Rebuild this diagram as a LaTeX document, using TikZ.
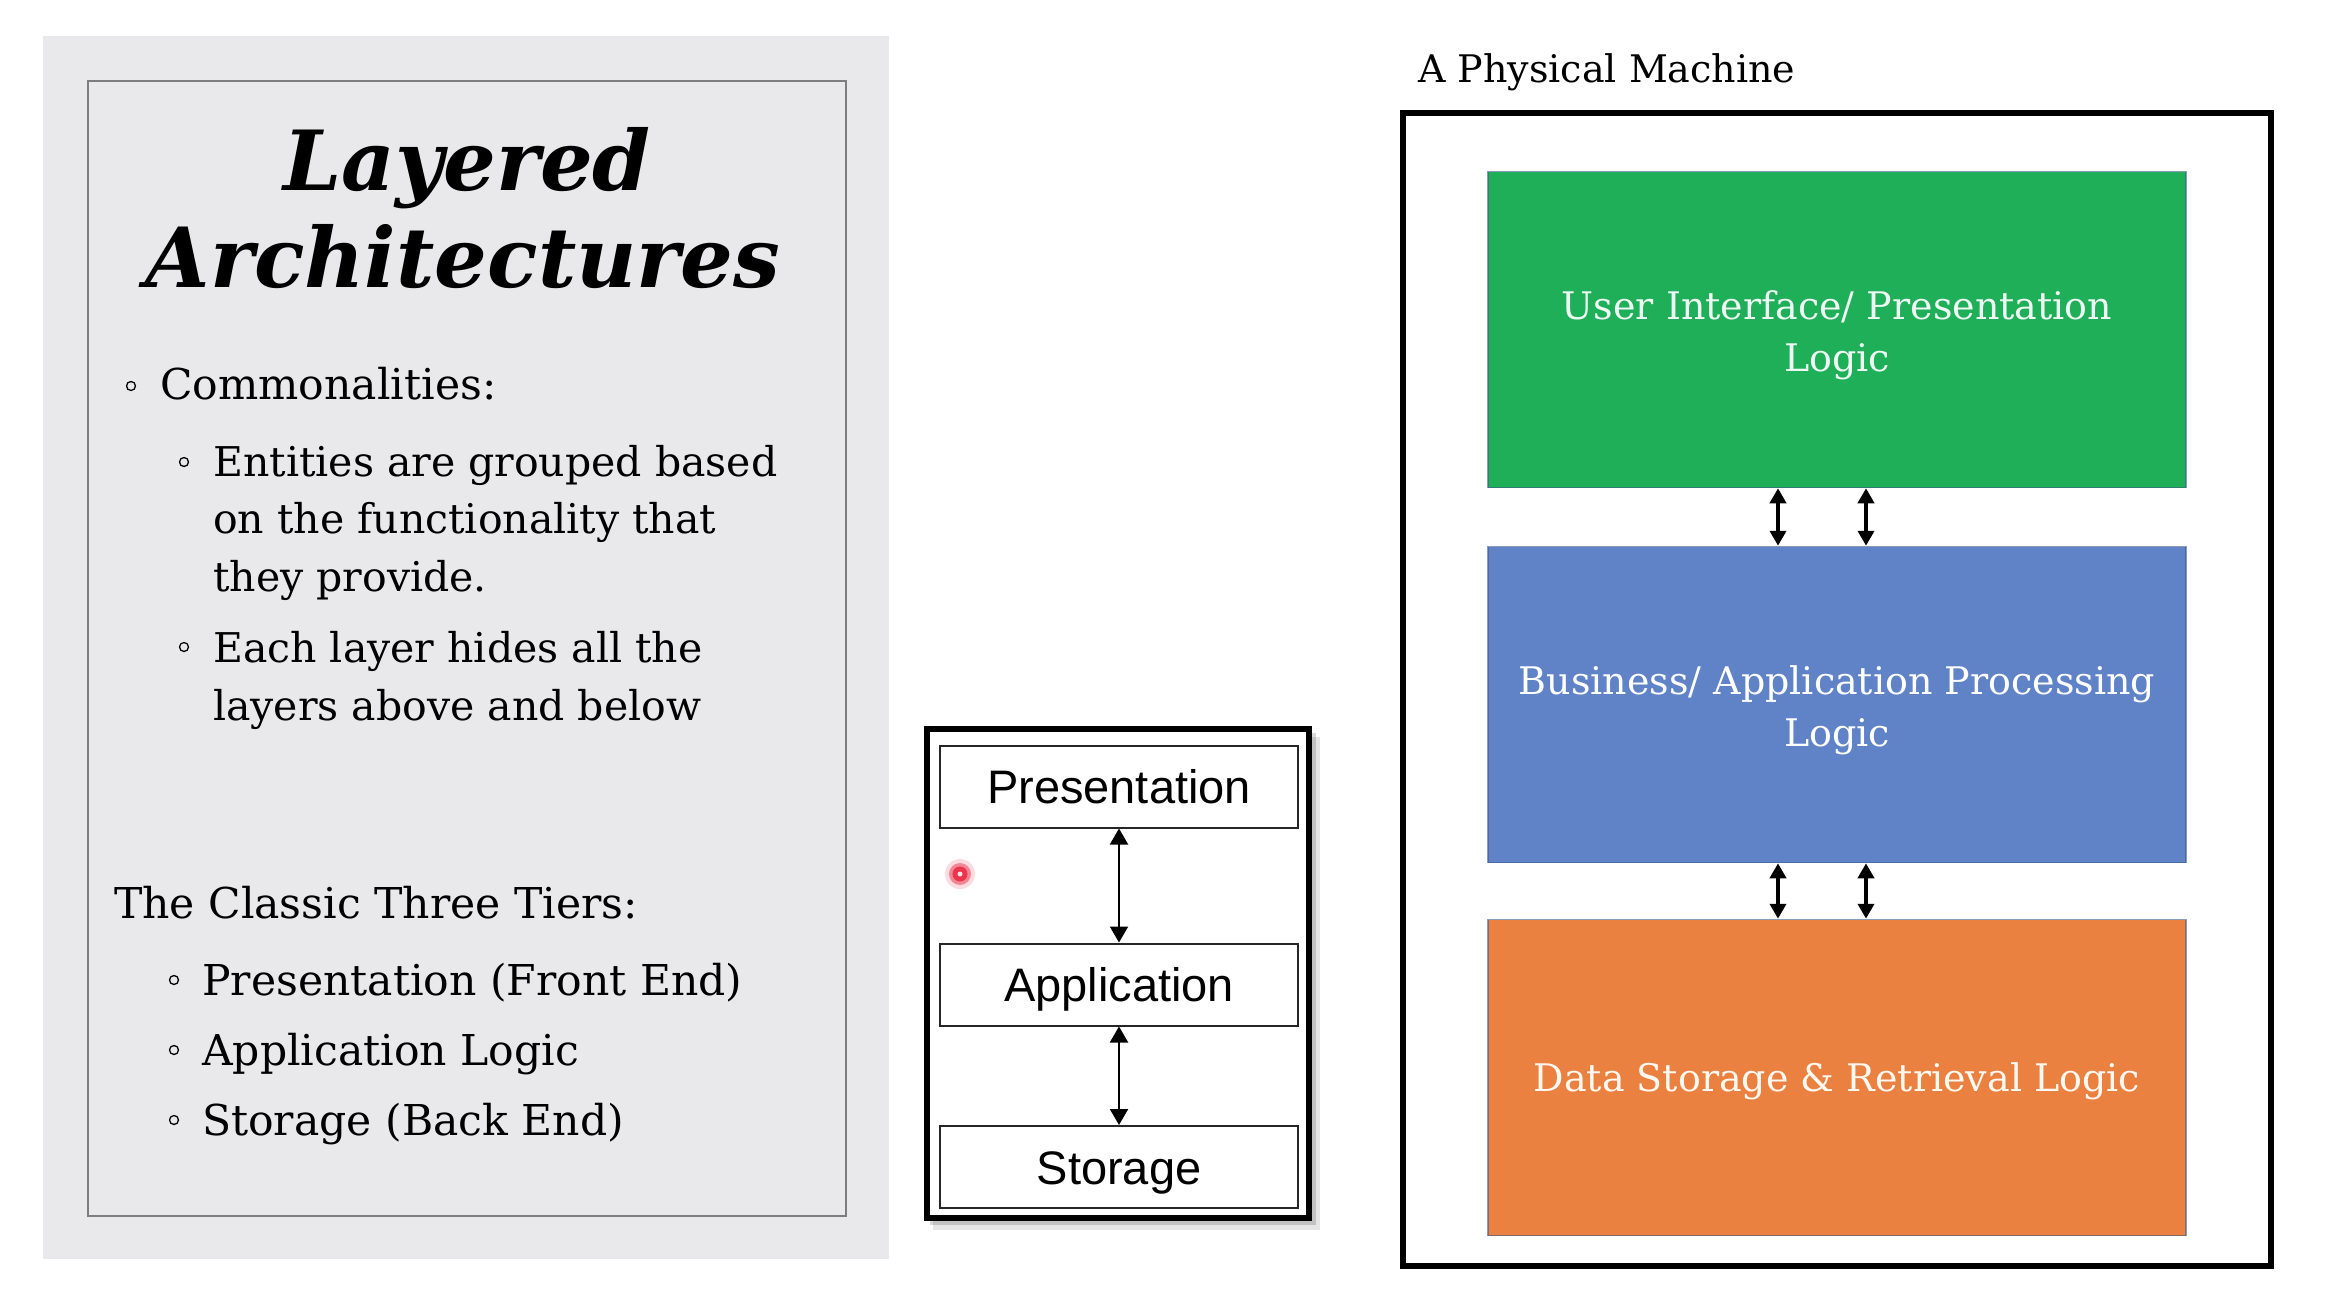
\documentclass[tikz,border=0pt]{standalone}
\usepackage{fontspec}
\setmainfont{DejaVu Serif}
\newfontfamily\sansA{Liberation Sans}
\usetikzlibrary{arrows.meta}
\definecolor{panelgray}{RGB}{233,232,235}
\definecolor{framegray}{RGB}{125,125,125}
\definecolor{uigreen}{RGB}{30,175,88}
\definecolor{bizblue}{RGB}{96,131,200}
\definecolor{dataorange}{RGB}{235,129,64}
\definecolor{edgeblue}{RGB}{60,90,140}
\definecolor{dotred}{RGB}{232,30,55}
\tikzset{
  titlestyle/.style={anchor=base, inner sep=0pt, font=\fontsize{83}{96}\selectfont\bfseries\itshape},
  lvlone/.style={anchor=base west, inner sep=0pt, font=\fontsize{42.5}{50}\selectfont},
  lvltwo/.style={anchor=base west, inner sep=0pt, font=\fontsize{41}{50}\selectfont},
  bulletmark/.style={draw=black, line width=1.3pt},
  tierbox/.style={draw=black!85, line width=2pt, fill=white, minimum width=358pt, minimum height=82pt,
     inner sep=0pt, font=\sansA\fontsize{47}{47}\selectfont, text height=34pt, text depth=0pt},
  layerbox/.style={minimum width=698pt, minimum height=316pt, draw=edgeblue, draw opacity=0.6,
     line width=1.5pt, inner sep=0pt},
  layertext/.style={text=white, align=center, inner sep=0pt, font=\fontsize{38}{52}\selectfont},
  thinarrow/.style={{Triangle[width=18pt,length=16pt]}-{Triangle[width=18pt,length=16pt]}, line width=2pt},
  thickarrow/.style={{Triangle[width=16pt,length=15pt]}-{Triangle[width=16pt,length=15pt]}, line width=4pt},
}
\begin{document}
\begin{tikzpicture}[x=1pt,y=-1pt]
\useasboundingbox (0,0) rectangle (2330,1298);
\fill[white] (0,0) rectangle (2330,1298);

% ---------- left panel ----------
\fill[panelgray] (43,36) rectangle (889,1259);
\draw[framegray, line width=1.5pt] (88,81) rectangle (846,1216);

\node[titlestyle] (t1) at (467,190) {Layered};
\node[titlestyle] (t2) at (463,287) {Architectures};

\draw[bulletmark] (131,386) circle[radius=4.5];
\node[lvlone] (c0) at (160,399) {Commonalities:};
\draw[bulletmark] (184,462) circle[radius=4.5];
\node[lvltwo] (c1) at (213,476) {Entities are grouped based};
\node[lvltwo] (c2) at (213,533) {on the functionality that};
\node[lvltwo] (c3) at (213,591) {they provide.};
\draw[bulletmark] (184,647) circle[radius=4.5];
\node[lvltwo] (c4) at (213,662) {Each layer hides all the};
\node[lvltwo] (c5) at (213,720) {layers above and below};

\node[lvlone] (k0) at (114,918) {The Classic Three Tiers:};
\draw[bulletmark] (174,980) circle[radius=4.5];
\node[lvlone] (k1) at (202,995) {Presentation (Front End)};
\draw[bulletmark] (174,1050) circle[radius=4.5];
\node[lvlone] (k2) at (202,1065) {Application Logic};
\draw[bulletmark] (174,1120) circle[radius=4.5];
\node[lvlone] (k3) at (202,1135) {Storage (Back End)};

% ---------- middle diagram ----------
\fill[black, opacity=0.10] (933,737) rectangle (1320,1230);
\fill[black, opacity=0.15] (930,733) rectangle (1316,1225);
\fill[white] (927,729) rectangle (1309,1218);
\draw[black, line width=6pt] (927,729) rectangle (1309,1218);

\node[tierbox] (pres) at (1119,786.5) {Presentation};
\node[tierbox] (app) at (1119,984.5) {Application};
\node[tierbox] (stor) at (1119,1167) {Storage};
\draw[thinarrow] (pres.south) -- (app.north);
\draw[thinarrow] (app.south) -- (stor.north);

\fill[dotred, opacity=0.15] (960,874) circle[radius=15];
\fill[dotred, opacity=0.45] (960,874) circle[radius=11];
\fill[dotred!90] (960,874) circle[radius=7.5];
\fill[white, opacity=0.85] (960,874) circle[radius=2.5];

% ---------- right diagram ----------
\node[anchor=base west, inner sep=0pt, font=\fontsize{38}{42}\selectfont] (pm) at (1418,82) {A Physical Machine};
\draw[black, line width=6pt] (1403,113) rectangle (2271,1266);

\node[layerbox, fill=uigreen] (ui) at (1837,329.5) {};
\node[layerbox, fill=bizblue] (biz) at (1837,704.5) {};
\node[layerbox, fill=dataorange] (data) at (1837,1077.5) {};

\node[layertext, text=white!92!uigreen] (uitext) at ([yshift=-6pt]ui.center) {User Interface/ Presentation\\Logic};
\node[layertext] (biztext) at ([yshift=-6pt]biz.center) {Business/ Application Processing\\Logic};
\node[layertext, text=white!95!orange, text height=28pt, text depth=0pt] (datatext) at (data.center) {Data Storage \& Retrieval Logic};

\coordinate (ax1) at (1778,0);
\coordinate (ax2) at (1866,0);
\draw[thickarrow] (ui.south -| ax1) -- (biz.north -| ax1);
\draw[thickarrow] (ui.south -| ax2) -- (biz.north -| ax2);
\draw[thickarrow] (biz.south -| ax1) -- (data.north -| ax1);
\draw[thickarrow] (biz.south -| ax2) -- (data.north -| ax2);
\end{tikzpicture}
\end{document}
